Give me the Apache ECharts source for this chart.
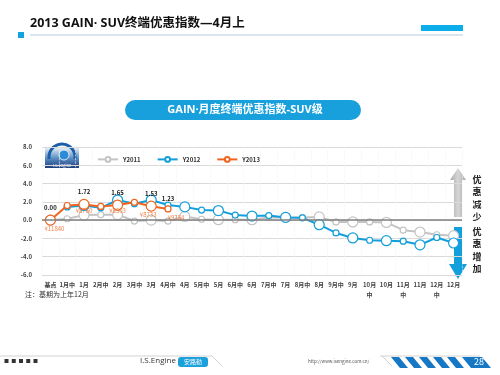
<!DOCTYPE html>
<html>
<head>
<meta charset="utf-8">
<script src="https://cdn.jsdelivr.net/npm/echarts@6/dist/echarts.min.js"></script>
<style>
  html, body { margin: 0; padding: 0; background: #fff; }
  #main { width: 500px; height: 375px; }
</style>
</head>
<body>
<div id="main"></div>
<script>
const categories = ['基点', '1月中', '1月', '2月中', '2月', '3月中', '3月', '4月中', '4月', '5月中', '5月', '6月中', '6月',
  '7月中', '7月', '8月中', '8月', '9月中', '9月', '10月中', '10月', '11月中', '11月', '12月中', '12月'];
const y2011 = [0, 0.15, 0.55, 0.6, 0.6, -0.1, 0, -0.1, 0.4, 0.1, 0.05, 0.05, 0.05,
  0.3, 0.3, 0.3, 0.35, -0.2, -0.2, -0.2, -0.25, -1.1, -1.3, -1.6, -1.7];
const y2012 = [null, 1.45, 1.6, 1.35, 2.2, 1.8, 2.2, 1.65, 1.45, 1.1, 1.05, 0.55, 0.45,
  0.5, 0.3, 0.25, -0.5, -1.4, -1.95, -2.2, -2.25, -2.3, -2.7, -1.9, -2.5];
const y2013 = [0, 1.6, 1.72, 1.5, 1.65, 1.95, 1.53, 1.23];
const valueLabelIdx = [0, 2, 4, 6, 7];
const prices = ['¥11840', '', '¥8760', '', '¥8503', '', '¥8733', '¥9354'];
const yTicks = { min: -6, max: 8, interval: 2 };

const font = '"Noto Sans CJK SC", "Noto Sans", sans-serif';
const titleFont = '"Open Sans", "Noto Sans CJK SC", sans-serif';
const GRAY = '#C4C4C4', BLUE = '#139FDB', ORANGE = '#F0641E';

// 月中 small marker, month-end big marker
const symSize = (v, p) => (p.dataIndex % 2 === 0 ? 10 : 6);

const chart = echarts.init(document.getElementById('main'));

const priceOffsets = [[4, 0], [0, 0], [0, -3], [0, 0], [0, -3], [0, 0], [-3, 0], [8, 0]];

chart.setOption({
  animation: false,
  textStyle: { fontFamily: font },
  grid: { left: 42, right: 38, top: 147, bottom: 100 },
  legend: {
    left: 92, top: 151, itemWidth: 20, itemHeight: 6, itemGap: 16,
    textStyle: { fontSize: 6, fontWeight: 'bold', color: '#333' },
    data: ['Y2011', 'Y2012', 'Y2013']
  },
  xAxis: {
    type: 'category', data: categories, boundaryGap: true,
    axisLine: { show: false }, axisTick: { show: false },
    splitLine: { show: true, lineStyle: { color: '#F2F2F2', type: 'dashed', width: 0.6 } },
    axisLabel: {
      fontSize: 6, color: '#444', fontWeight: 'bold', margin: 5, interval: 0, lineHeight: 10,
      formatter: s => (s.length > 3 ? s.slice(0, 3) + '\n' + s.slice(3) : s)
    }
  },
  yAxis: {
    type: 'value', min: yTicks.min, max: yTicks.max, interval: yTicks.interval,
    axisLine: { show: false }, axisTick: { show: false },
    splitLine: { lineStyle: { color: '#D9D9D9', width: 1 } },
    axisLabel: { fontSize: 6, color: '#444', fontWeight: 'bold', margin: 10, formatter: v => v.toFixed(1) }
  },
  series: [
    {
      name: 'Y2011', type: 'line', data: y2011, symbol: 'circle', symbolSize: symSize,
      lineStyle: { color: GRAY, width: 2 },
      itemStyle: { color: '#fff', borderColor: GRAY, borderWidth: 1.2 },
      markLine: {
        silent: true, symbol: 'none', label: { show: false },
        lineStyle: { color: '#7F7F7F', width: 1.5, type: 'solid' },
        data: [{ yAxis: 0 }]
      },
      z: 2
    },
    {
      name: 'Y2012', type: 'line', data: y2012, symbol: 'circle', symbolSize: symSize,
      lineStyle: { color: BLUE, width: 2 },
      itemStyle: { color: '#fff', borderColor: BLUE, borderWidth: 1.2 },
      z: 3
    },
    {
      name: 'Y2013', type: 'line', data: y2013, symbol: 'circle', symbolSize: symSize,
      lineStyle: { color: ORANGE, width: 2 },
      itemStyle: { color: '#fff', borderColor: ORANGE, borderWidth: 1.2 },
      label: {
        show: true, position: 'top', distance: 4, fontSize: 6, fontWeight: 'bold', color: '#222',
        formatter: p => (valueLabelIdx.includes(p.dataIndex) ? p.value.toFixed(2) : '')
      },
      z: 4
    },
    {
      name: 'price', type: 'scatter', data: y2013.map((v, i) => ({
        value: v,
        label: { offset: priceOffsets[i] }
      })),
      symbolSize: 2, itemStyle: { color: 'rgba(0,0,0,0)' }, silent: true, z: 5,
      label: {
        show: true, position: 'bottom', distance: 5, fontSize: 6, color: ORANGE,
        formatter: p => prices[p.dataIndex]
      }
    }
  ],
  graphic: [
    // header
    { type: 'text', left: 30, top: 17, style: { text: '2013 GAIN· SUV终端优惠指数—4月上', font: 'bold 12.5px ' + titleFont, fill: '#111' } },
    { type: 'rect', shape: { x: 18, y: 32, width: 6, height: 6 }, style: { fill: '#12A3E0' } },
    { type: 'line', shape: { x1: 30, y1: 35, x2: 463, y2: 35 }, style: { stroke: '#B9CBDA', lineWidth: 1 } },
    { type: 'rect', shape: { x: 421, y: 25, width: 42, height: 6 }, style: { fill: '#0CAEEA' } },
    // pill title
    { type: 'rect', shape: { x: 125, y: 100, width: 236, height: 20, r: 10 }, style: { fill: '#18A0DC' } },
    { type: 'text', x: 245, y: 110, style: { text: 'GAIN·月度终端优惠指数-SUV级', font: 'bold 11px ' + titleFont, fill: '#fff', align: 'center', verticalAlign: 'middle' } },
    // logo
    { type: 'rect', shape: { x: 45, y: 146, width: 34, height: 22 }, style: {
      fill: new echarts.graphic.LinearGradient(0, 0, 0, 1, [{ offset: 0, color: '#ffffff' }, { offset: 0.55, color: '#5C8FC4' }, { offset: 1, color: '#1D3E7C' }]) } },
    { type: 'arc', shape: { cx: 62, cy: 157, r: 13, startAngle: Math.PI * 0.95, endAngle: Math.PI * 2.05 }, style: { stroke: '#1D5FA8', lineWidth: 3, fill: null } },
    { type: 'circle', shape: { cx: 64, cy: 155, r: 5 }, style: { fill: '#2D8AD6', stroke: '#fff', lineWidth: 0.8 } },
    { type: 'text', x: 62, y: 165, style: { text: 'I.S.Engine', font: '4px ' + font, fill: '#fff', align: 'center', verticalAlign: 'middle' } },
    // arrows
    { type: 'polygon', shape: { points: [[458, 168], [466, 180], [462, 180], [462, 217], [454, 217], [454, 180], [450, 180]] },
      style: { fill: new echarts.graphic.LinearGradient(0, 0, 1, 0, [{ offset: 0, color: '#A9A9A9' }, { offset: 0.5, color: '#D6D6D6' }, { offset: 1, color: '#A9A9A9' }]) } },
    { type: 'polygon', shape: { points: [[454, 227], [462, 227], [462, 264], [467, 264], [458, 279], [449, 264], [454, 264]] },
      style: { fill: '#139FDB' } },
    { type: 'text', x: 477, y: 173, style: { text: '优\n惠\n减\n少', font: 'bold 9px ' + font, lineHeight: 12.5, fill: '#222', align: 'center', verticalAlign: 'top' } },
    { type: 'text', x: 477, y: 225, style: { text: '优\n惠\n增\n加', font: 'bold 9px ' + font, lineHeight: 12.5, fill: '#222', align: 'center', verticalAlign: 'top' } },
    // note
    { type: 'text', left: 25, top: 291, style: { text: '注：基期为上年12月', font: '7px ' + font, fill: '#333' } },
    // footer
    { type: 'polyline', shape: { points: [[0, 356], [212, 356], [222, 366]] }, style: { stroke: '#D2D2D2', lineWidth: 1 } },
    { type: 'polyline', shape: { points: [[380, 356], [480, 356]] }, style: { stroke: '#D2D2D2', lineWidth: 1 } },
    { type: 'text', left: 4, top: 358, style: { text: '■  ■  ■  ■  ■', font: '5px ' + font, fill: '#333' } },
    { type: 'text', left: 140, top: 357, style: { text: 'I.S.Engine', font: '8px ' + titleFont, fill: '#333' } },
    { type: 'rect', shape: { x: 178, y: 357, width: 30, height: 10, r: 3 }, style: { fill: '#1CA0DC' } },
    { type: 'text', x: 193, y: 362, style: { text: '安路勤', font: '6px ' + font, fill: '#fff', align: 'center', verticalAlign: 'middle' } },
    { type: 'text', left: 308, top: 359, style: { text: 'http://www.isengine.com.cn/', font: '4.5px ' + font, fill: '#555' } },
    { type: 'line', shape: { x1: 382, y1: 356, x2: 392, y2: 366 }, style: { stroke: '#D2D2D2', lineWidth: 1 } },
    { type: 'group', children: [0, 1, 2, 3, 4].map(k => ({
      type: 'polygon', shape: { points: [[391 + k * 14, 357], [399 + k * 14, 357], [408 + k * 14, 368], [400 + k * 14, 368]] }, style: { fill: '#1677C4' }
    })) },
    { type: 'polygon', shape: { points: [[462, 357], [482, 357], [491, 368], [471, 368]] }, style: { fill: '#1677C4' } },
    { type: 'text', x: 479, y: 362, style: { text: '28', font: '9px ' + font, fill: '#fff', align: 'center', verticalAlign: 'middle' } }
  ]
});
</script>
</body>
</html>
